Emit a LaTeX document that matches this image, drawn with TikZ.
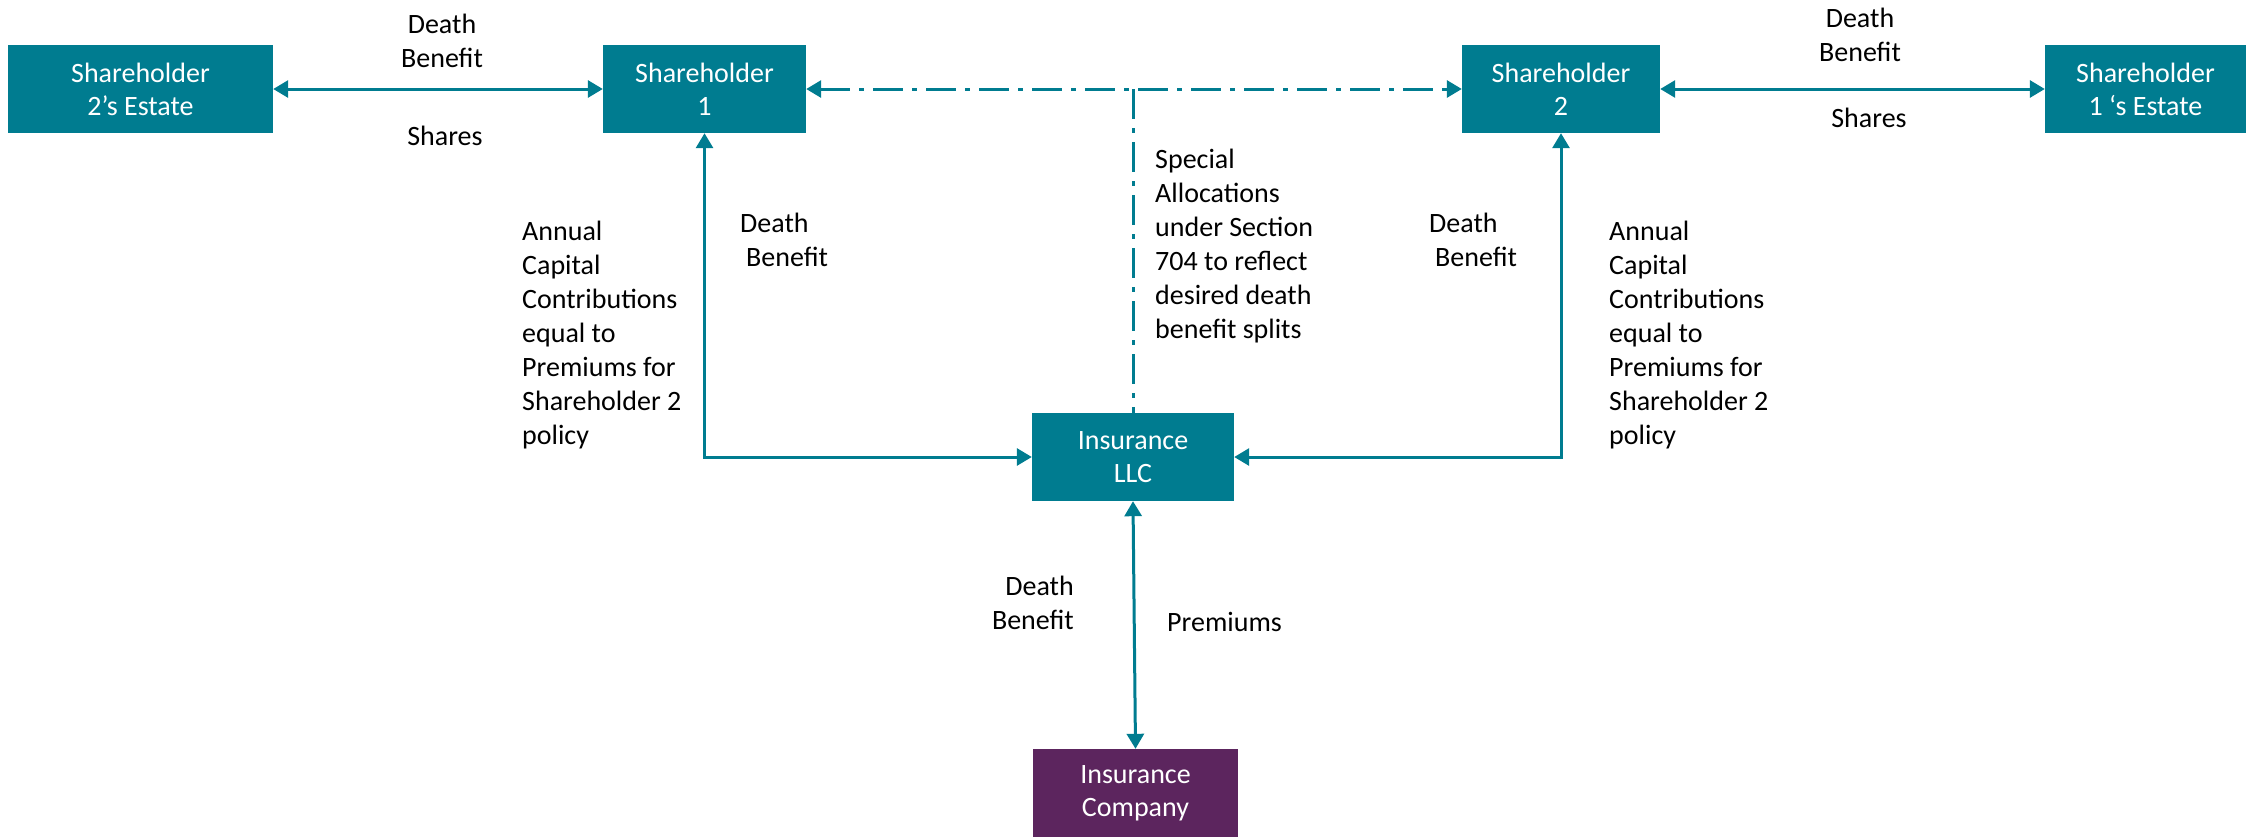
\documentclass[tikz,border=0pt]{standalone}
\usepackage{fontspec}
\setmainfont{Carlito}
\usetikzlibrary{arrows.meta}
\definecolor{teal1}{RGB}{0,124,144}
\definecolor{purp}{RGB}{92,37,94}
\tikzset{
  box/.style={draw=none, fill=teal1, text=white, align=center, inner sep=0pt,
    minimum height=88pt, font=\fontsize{28}{33}\selectfont},
  lbl/.style={inner sep=0pt, font=\fontsize{28}{34}\selectfont, text=black},
  conn/.style={draw=teal1, line width=3pt, {Triangle[length=15pt,width=17pt]}-{Triangle[length=15pt,width=17pt]}},
  oneway/.style={draw=teal1, line width=3pt, -{Triangle[length=15pt,width=17pt]}},
  dashdot/.style={dash pattern=on 30pt off 9pt on 5pt off 9pt},
}
\begin{document}
\begin{tikzpicture}[x=1pt,y=-1pt]
\useasboundingbox (0,0) rectangle (2254,836);
% boxes
\node[box, minimum width=265pt] (s2e) at (140.5,89) {Shareholder\\2’s Estate};
\node[box, minimum width=203pt] (s1) at (704.5,89) {Shareholder\\1};
\node[box, minimum width=198pt] (s2) at (1561,89) {Shareholder\\2};
\node[box, minimum width=201pt] (s1e) at (2145.5,89) {Shareholder\\1 ‘s Estate};
\node[box, minimum width=202pt] (llc) at (1133,457) {Insurance\\LLC};
\node[box, fill=purp, minimum width=205pt] (co) at (1135.5,793) {Insurance\\Company};
% connectors
\draw[conn] (s2e.east) -- (s1.west);
\draw[conn] (s2.east) -- (s1e.west);
\draw[conn, dashdot] (s1.east) -- (s2.west);
\coordinate (tee) at (llc.north |- s1.east);
\draw[draw=teal1, line width=3pt, dashdot] (tee) -- (llc.north);
\draw[conn] (s1.south) |- (llc.west);
\draw[conn] (s2.south) |- (llc.east);
\draw[conn] (llc.south) -- (co.north);
% labels
\node[lbl, align=center] (l1) at (442,41) {Death\\Benefit};
\node[lbl] (l2) at (445,136) {Shares};
\node[lbl, align=center] (l3) at (1860,35) {Death\\Benefit};
\node[lbl] (l4) at (1869,118) {Shares};
\node[lbl, align=left, anchor=west] (l5) at (1155,246) {Special\\Allocations\\under Section\\704 to reflect\\desired death\\benefit splits};
\node[lbl, align=left, anchor=west] (l6) at (522,335) {Annual\\Capital\\Contributions\\equal to\\Premiums for\\Shareholder 2\\policy};
\node[lbl, align=left, anchor=west] (l7) at (740,240) {Death\\\hspace{6pt}Benefit};
\node[lbl, align=left, anchor=west] (l8) at (1429,240) {Death\\\hspace{6pt}Benefit};
\node[lbl, align=left, anchor=west] (l9) at (1609,335) {Annual\\Capital\\Contributions\\equal to\\Premiums for\\Shareholder 2\\policy};
\node[lbl, align=right, anchor=east] (l10) at (1074,603) {Death\\Benefit};
\node[lbl, anchor=west] (l11) at (1167,622) {Premiums};
\end{tikzpicture}
\end{document}
